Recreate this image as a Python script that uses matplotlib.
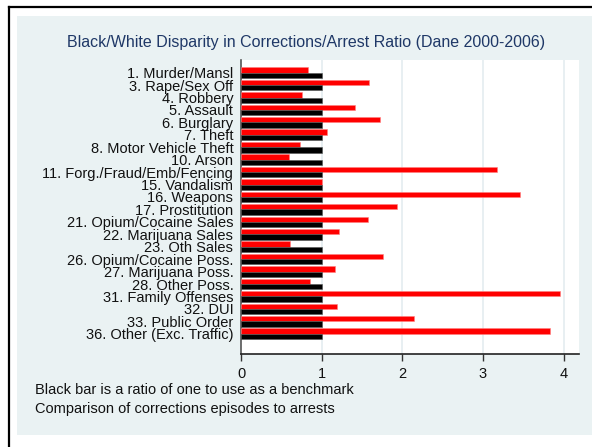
import matplotlib
matplotlib.use("Agg")
import matplotlib.pyplot as plt
from matplotlib.patches import Rectangle
from matplotlib.lines import Line2D

plt.rcParams['font.family'] = ['Liberation Sans', 'DejaVu Sans']

categories = [
    "1. Murder/Mansl", "3. Rape/Sex Off", "4. Robbery", "5. Assault",
    "6. Burglary", "7. Theft", "8. Motor Vehicle Theft", "10. Arson",
    "11. Forg./Fraud/Emb/Fencing", "15. Vandalism", "16. Weapons",
    "17. Prostitution", "21. Opium/Cocaine Sales", "22. Marijuana Sales",
    "23. Oth Sales", "26. Opium/Cocaine Poss.", "27. Marijuana Poss.",
    "28. Other Poss.", "31. Family Offenses", "32. DUI",
    "33. Public Order", "36. Other (Exc. Traffic)",
]
black_ratio = [1.0] * 22
red_ratio = [0.83, 1.585, 0.76, 1.415, 1.72, 1.06, 0.73, 0.59,
             3.17, 1.0, 3.46, 1.93, 1.58, 1.21, 0.61, 1.76,
             1.17, 0.85, 3.96, 1.19, 2.14, 3.83]
xticks = [0, 1, 2, 3, 4]
title = "Black/White Disparity in Corrections/Arrest Ratio (Dane 2000-2006)"
notes = ["Black bar is a ratio of one to use as a benchmark",
         "Comparison of corrections episodes to arrests"]

W, H = 592, 447
fig = plt.figure(figsize=(W / 100, H / 100), dpi=100)
fig.patch.set_facecolor("white")

def fx(px):
    return px / W

def fy(py):
    return 1 - py / H

# panel background
fig.patches.append(Rectangle((fx(17), fy(435)), fx(592) - fx(17) + 0.01, fy(16) - fy(435),
                             transform=fig.transFigure, facecolor="#eaf2f3",
                             edgecolor="none", zorder=-5))
# black frame lines (left and top)
fig.lines.append(Line2D([fx(9), fx(9)], [fy(7), 0], transform=fig.transFigure,
                        color="black", lw=1.6, zorder=-4))
fig.lines.append(Line2D([fx(9), 1], [fy(7), fy(7)], transform=fig.transFigure,
                        color="black", lw=1.6, zorder=-4))

ax = fig.add_axes([fx(241), fy(354), fx(579) - fx(241), fy(60) - fy(354)])
ax.set_zorder(2)
ax.set_facecolor("white")

pos = list(range(len(categories)))
h = 0.43
ax.barh([p - h / 2 for p in pos], red_ratio, height=h, color="#ff0000",
        edgecolor="#ff8080", linewidth=0.4, zorder=3)
ax.barh([p + h / 2 for p in pos], black_ratio, height=h, color="black",
        edgecolor="#555555", linewidth=0.4, zorder=3)

ax.set_xlim(0, 4.19)
ax.set_ylim(len(categories) - 1 + 1.63, -1.02)
ax.set_yticks(pos)
ax.set_yticklabels(categories, fontsize=10.5, color="#111111")
ax.tick_params(axis="y", length=0, pad=5.5)
ax.set_xticks(xticks)
ax.set_xticklabels([str(t) for t in xticks], fontsize=10.5, color="#111111")
ax.tick_params(axis="x", length=5, width=1, color="#333333", pad=4, direction="out")
for t in xticks[1:]:
    ax.axvline(t, color="#e4ecf0", lw=1.2, zorder=1)

for s in ["top", "right"]:
    ax.spines[s].set_visible(False)
ax.spines["left"].set_color("#555555")
ax.spines["left"].set_linewidth(1.2)
ax.spines["bottom"].set_color("#222222")
ax.spines["bottom"].set_linewidth(1.2)

fig.text(fx(306), fy(43), title, ha="center", va="center", fontsize=11.5,
         color="#1f3867")
fig.text(fx(35), fy(390), notes[0], ha="left", va="center", fontsize=10.5, color="#111111")
fig.text(fx(35), fy(409), notes[1], ha="left", va="center", fontsize=10.5, color="#111111")

fig.savefig("out.png", dpi=100, facecolor="white")
